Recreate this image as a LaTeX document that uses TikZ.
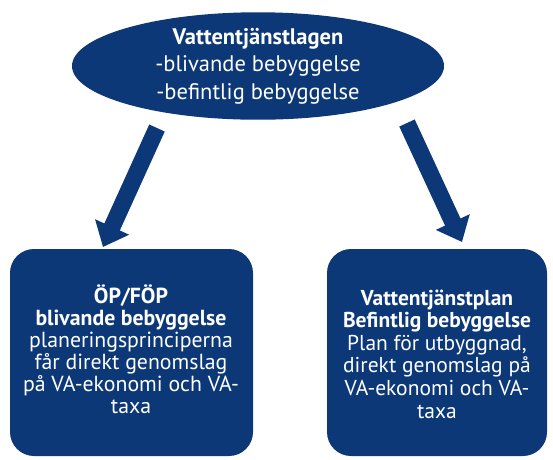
\documentclass[tikz,border=0pt]{standalone}
\usepackage{fontspec}
\setmainfont{PT Sans}
\usetikzlibrary{arrows.meta,shapes.geometric}
\definecolor{navy}{RGB}{12,56,120}
\tikzset{
  box/.style={fill=navy, rounded corners=24pt, text=white, align=center},
  bigarrow/.style={draw=navy, line width=17pt, -{Triangle[width=36pt,length=22pt]}},
}
\begin{document}
\begin{tikzpicture}[x=1pt,y=-1pt]
\useasboundingbox (0,0) rectangle (553,459);
\node[ellipse, fill=navy, minimum width=372pt, minimum height=107pt, inner sep=0pt,
      text=white, align=center, font=\fontsize{22.5}{27.5}\selectfont] (top) at (258,66)
  {\textbf{Vattentjänstlagen}\\-blivande bebyggelse\\-befintlig bebyggelse};
\fill[box] (10,249) rectangle (253,456);
\node[text=white, align=center, font=\fontsize{21.8}{22}\selectfont] (left) at (131,349)
  {\textbf{ÖP/FÖP}\\\textbf{blivande bebyggelse}\\planeringsprinciperna\\får direkt genomslag\\på VA-ekonomi och VA-\\taxa};
\fill[box] (327,249) rectangle (547,456);
\node[text=white, align=center, font=\fontsize{21.5}{22.6}\selectfont] (right) at (437,354)
  {\textbf{Vattentjänstplan}\\\textbf{Befintlig bebyggelse}\\Plan för utbyggnad,\\direkt genomslag på\\VA-ekonomi och VA-\\taxa};
\coordinate (la) at (157,128);
\coordinate (lb) at (103,247);
\coordinate (ra) at (407,123);
\coordinate (rb) at (462,242);
\draw[bigarrow] (la) -- (lb);
\draw[bigarrow] (ra) -- (rb);
\end{tikzpicture}
\end{document}
